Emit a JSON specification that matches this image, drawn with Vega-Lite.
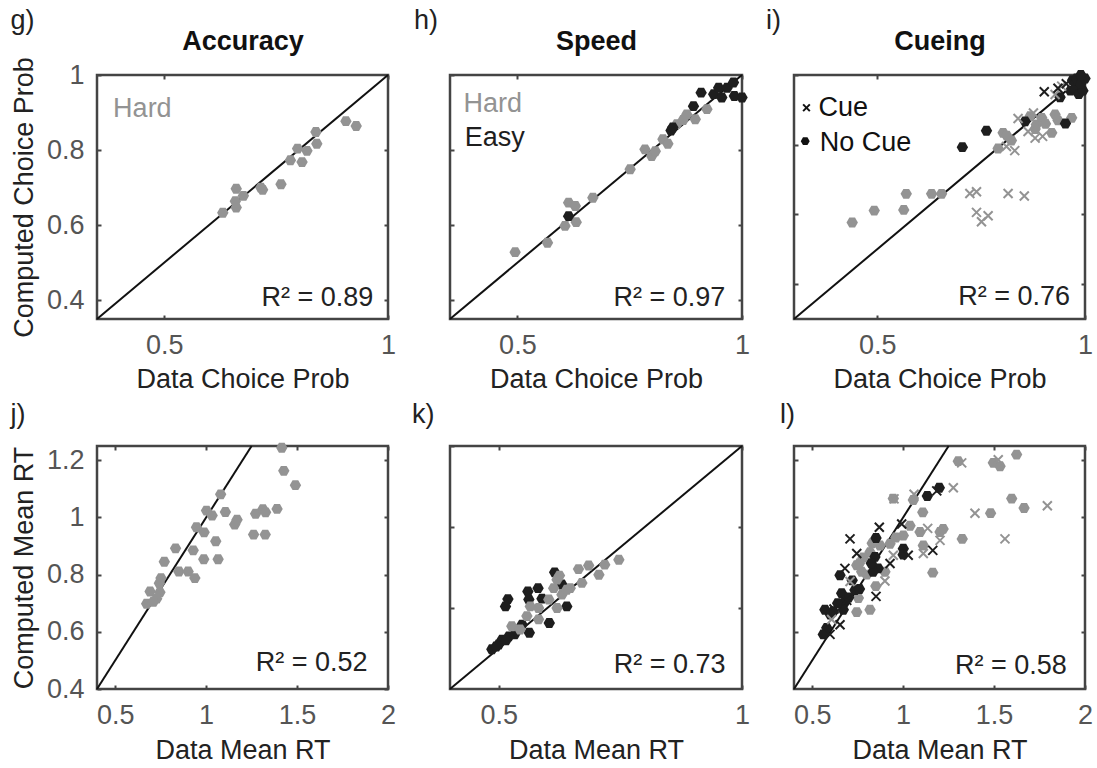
{
  "$schema": "https://vega.github.io/schema/vega-lite/v6.json",
  "background": "white",
  "padding": {"left": 9, "top": 5, "right": 0, "bottom": 0},
  "datasets": {
    "g": [
      {"observed": 0.631, "computed": 0.633, "difficulty": "Hard"},
      {"observed": 0.661, "computed": 0.647, "difficulty": "Hard"},
      {"observed": 0.659, "computed": 0.664, "difficulty": "Hard"},
      {"observed": 0.677, "computed": 0.678, "difficulty": "Hard"},
      {"observed": 0.661, "computed": 0.697, "difficulty": "Hard"},
      {"observed": 0.716, "computed": 0.700, "difficulty": "Hard"},
      {"observed": 0.720, "computed": 0.694, "difficulty": "Hard"},
      {"observed": 0.761, "computed": 0.709, "difficulty": "Hard"},
      {"observed": 0.782, "computed": 0.773, "difficulty": "Hard"},
      {"observed": 0.808, "computed": 0.768, "difficulty": "Hard"},
      {"observed": 0.798, "computed": 0.804, "difficulty": "Hard"},
      {"observed": 0.819, "computed": 0.798, "difficulty": "Hard"},
      {"observed": 0.841, "computed": 0.817, "difficulty": "Hard"},
      {"observed": 0.839, "computed": 0.848, "difficulty": "Hard"},
      {"observed": 0.906, "computed": 0.877, "difficulty": "Hard"},
      {"observed": 0.929, "computed": 0.864, "difficulty": "Hard"}
    ],
    "h": [
      {"observed": 0.495, "computed": 0.528, "difficulty": "Hard"},
      {"observed": 0.567, "computed": 0.553, "difficulty": "Hard"},
      {"observed": 0.606, "computed": 0.598, "difficulty": "Hard"},
      {"observed": 0.631, "computed": 0.608, "difficulty": "Hard"},
      {"observed": 0.614, "computed": 0.660, "difficulty": "Hard"},
      {"observed": 0.629, "computed": 0.651, "difficulty": "Hard"},
      {"observed": 0.668, "computed": 0.673, "difficulty": "Hard"},
      {"observed": 0.751, "computed": 0.749, "difficulty": "Hard"},
      {"observed": 0.784, "computed": 0.802, "difficulty": "Hard"},
      {"observed": 0.799, "computed": 0.784, "difficulty": "Hard"},
      {"observed": 0.807, "computed": 0.797, "difficulty": "Hard"},
      {"observed": 0.824, "computed": 0.829, "difficulty": "Hard"},
      {"observed": 0.835, "computed": 0.817, "difficulty": "Hard"},
      {"observed": 0.855, "computed": 0.869, "difficulty": "Hard"},
      {"observed": 0.869, "computed": 0.880, "difficulty": "Hard"},
      {"observed": 0.877, "computed": 0.895, "difficulty": "Hard"},
      {"observed": 0.896, "computed": 0.882, "difficulty": "Hard"},
      {"observed": 0.922, "computed": 0.909, "difficulty": "Hard"},
      {"observed": 0.614, "computed": 0.624, "difficulty": "Easy"},
      {"observed": 0.842, "computed": 0.852, "difficulty": "Easy"},
      {"observed": 0.846, "computed": 0.860, "difficulty": "Easy"},
      {"observed": 0.892, "computed": 0.917, "difficulty": "Easy"},
      {"observed": 0.909, "computed": 0.953, "difficulty": "Easy"},
      {"observed": 0.937, "computed": 0.949, "difficulty": "Easy"},
      {"observed": 0.948, "computed": 0.966, "difficulty": "Easy"},
      {"observed": 0.955, "computed": 0.940, "difficulty": "Easy"},
      {"observed": 0.967, "computed": 0.966, "difficulty": "Easy"},
      {"observed": 0.981, "computed": 0.980, "difficulty": "Easy"},
      {"observed": 0.983, "computed": 0.944, "difficulty": "Easy"},
      {"observed": 1.0, "computed": 0.940, "difficulty": "Easy"}
    ],
    "i": [
      {"observed": 0.440, "computed": 0.577, "difficulty": "Hard", "cue": "No Cue"},
      {"observed": 0.493, "computed": 0.611, "difficulty": "Hard", "cue": "No Cue"},
      {"observed": 0.564, "computed": 0.613, "difficulty": "Hard", "cue": "No Cue"},
      {"observed": 0.570, "computed": 0.659, "difficulty": "Hard", "cue": "No Cue"},
      {"observed": 0.631, "computed": 0.659, "difficulty": "Hard", "cue": "No Cue"},
      {"observed": 0.655, "computed": 0.659, "difficulty": "Hard", "cue": "No Cue"},
      {"observed": 0.791, "computed": 0.789, "difficulty": "Hard", "cue": "No Cue"},
      {"observed": 0.803, "computed": 0.834, "difficulty": "Hard", "cue": "No Cue"},
      {"observed": 0.823, "computed": 0.812, "difficulty": "Hard", "cue": "No Cue"},
      {"observed": 0.812, "computed": 0.826, "difficulty": "Hard", "cue": "No Cue"},
      {"observed": 0.883, "computed": 0.858, "difficulty": "Hard", "cue": "No Cue"},
      {"observed": 0.896, "computed": 0.877, "difficulty": "Hard", "cue": "No Cue"},
      {"observed": 0.928, "computed": 0.887, "difficulty": "Hard", "cue": "No Cue"},
      {"observed": 0.920, "computed": 0.834, "difficulty": "Hard", "cue": "No Cue"},
      {"observed": 0.968, "computed": 0.877, "difficulty": "Hard", "cue": "No Cue"},
      {"observed": 0.868, "computed": 0.882, "difficulty": "Hard", "cue": "No Cue"},
      {"observed": 0.880, "computed": 0.845, "difficulty": "Hard", "cue": "No Cue"},
      {"observed": 0.905, "computed": 0.860, "difficulty": "Hard", "cue": "No Cue"},
      {"observed": 0.935, "computed": 0.870, "difficulty": "Hard", "cue": "No Cue"},
      {"observed": 0.705, "computed": 0.793, "difficulty": "Easy", "cue": "No Cue"},
      {"observed": 0.763, "computed": 0.840, "difficulty": "Easy", "cue": "No Cue"},
      {"observed": 0.856, "computed": 0.867, "difficulty": "Easy", "cue": "No Cue"},
      {"observed": 0.953, "computed": 0.861, "difficulty": "Easy", "cue": "No Cue"},
      {"observed": 0.940, "computed": 0.936, "difficulty": "Easy", "cue": "No Cue"},
      {"observed": 0.965, "computed": 0.955, "difficulty": "Easy", "cue": "No Cue"},
      {"observed": 0.975, "computed": 0.960, "difficulty": "Easy", "cue": "No Cue"},
      {"observed": 0.985, "computed": 0.945, "difficulty": "Easy", "cue": "No Cue"},
      {"observed": 0.995, "computed": 0.955, "difficulty": "Easy", "cue": "No Cue"},
      {"observed": 0.970, "computed": 0.985, "difficulty": "Easy", "cue": "No Cue"},
      {"observed": 0.980, "computed": 0.990, "difficulty": "Easy", "cue": "No Cue"},
      {"observed": 0.990, "computed": 0.975, "difficulty": "Easy", "cue": "No Cue"},
      {"observed": 1.0, "computed": 0.990, "difficulty": "Easy", "cue": "No Cue"},
      {"observed": 0.990, "computed": 1.0, "difficulty": "Easy", "cue": "No Cue"},
      {"observed": 0.723, "computed": 0.660, "difficulty": "Hard", "cue": "Cue"},
      {"observed": 0.739, "computed": 0.665, "difficulty": "Hard", "cue": "Cue"},
      {"observed": 0.739, "computed": 0.606, "difficulty": "Hard", "cue": "Cue"},
      {"observed": 0.767, "computed": 0.596, "difficulty": "Hard", "cue": "Cue"},
      {"observed": 0.751, "computed": 0.579, "difficulty": "Hard", "cue": "Cue"},
      {"observed": 0.815, "computed": 0.660, "difficulty": "Hard", "cue": "Cue"},
      {"observed": 0.854, "computed": 0.653, "difficulty": "Hard", "cue": "Cue"},
      {"observed": 0.831, "computed": 0.783, "difficulty": "Hard", "cue": "Cue"},
      {"observed": 0.811, "computed": 0.795, "difficulty": "Hard", "cue": "Cue"},
      {"observed": 0.839, "computed": 0.875, "difficulty": "Hard", "cue": "Cue"},
      {"observed": 0.876, "computed": 0.891, "difficulty": "Hard", "cue": "Cue"},
      {"observed": 0.863, "computed": 0.838, "difficulty": "Hard", "cue": "Cue"},
      {"observed": 0.880, "computed": 0.819, "difficulty": "Hard", "cue": "Cue"},
      {"observed": 0.898, "computed": 0.824, "difficulty": "Hard", "cue": "Cue"},
      {"observed": 0.928, "computed": 0.944, "difficulty": "Hard", "cue": "Cue"},
      {"observed": 0.944, "computed": 0.968, "difficulty": "Hard", "cue": "Cue"},
      {"observed": 0.902, "computed": 0.952, "difficulty": "Easy", "cue": "Cue"},
      {"observed": 0.935, "computed": 0.962, "difficulty": "Easy", "cue": "Cue"},
      {"observed": 0.955, "computed": 0.975, "difficulty": "Easy", "cue": "Cue"}
    ],
    "j": [
      {"observed": 1.416, "computed": 1.244, "difficulty": "Hard"},
      {"observed": 1.427, "computed": 1.163, "difficulty": "Hard"},
      {"observed": 1.491, "computed": 1.113, "difficulty": "Hard"},
      {"observed": 1.080, "computed": 1.081, "difficulty": "Hard"},
      {"observed": 1.002, "computed": 1.024, "difficulty": "Hard"},
      {"observed": 1.033, "computed": 1.007, "difficulty": "Hard"},
      {"observed": 1.106, "computed": 1.019, "difficulty": "Hard"},
      {"observed": 1.170, "computed": 0.992, "difficulty": "Hard"},
      {"observed": 1.157, "computed": 0.975, "difficulty": "Hard"},
      {"observed": 0.947, "computed": 0.966, "difficulty": "Hard"},
      {"observed": 0.989, "computed": 0.948, "difficulty": "Hard"},
      {"observed": 1.053, "computed": 0.917, "difficulty": "Hard"},
      {"observed": 0.832, "computed": 0.892, "difficulty": "Hard"},
      {"observed": 0.929, "computed": 0.885, "difficulty": "Hard"},
      {"observed": 0.770, "computed": 0.845, "difficulty": "Hard"},
      {"observed": 0.987, "computed": 0.854, "difficulty": "Hard"},
      {"observed": 1.066, "computed": 0.854, "difficulty": "Hard"},
      {"observed": 0.850, "computed": 0.811, "difficulty": "Hard"},
      {"observed": 0.901, "computed": 0.811, "difficulty": "Hard"},
      {"observed": 0.938, "computed": 0.788, "difficulty": "Hard"},
      {"observed": 0.752, "computed": 0.788, "difficulty": "Hard"},
      {"observed": 0.743, "computed": 0.770, "difficulty": "Hard"},
      {"observed": 0.692, "computed": 0.741, "difficulty": "Hard"},
      {"observed": 0.746, "computed": 0.738, "difficulty": "Hard"},
      {"observed": 0.728, "computed": 0.716, "difficulty": "Hard"},
      {"observed": 0.673, "computed": 0.698, "difficulty": "Hard"},
      {"observed": 0.710, "computed": 0.705, "difficulty": "Hard"},
      {"observed": 1.261, "computed": 0.940, "difficulty": "Hard"},
      {"observed": 1.325, "computed": 0.940, "difficulty": "Hard"},
      {"observed": 1.272, "computed": 1.013, "difficulty": "Hard"},
      {"observed": 1.312, "computed": 1.029, "difficulty": "Hard"},
      {"observed": 1.327, "computed": 1.018, "difficulty": "Hard"},
      {"observed": 1.390, "computed": 1.030, "difficulty": "Hard"}
    ],
    "k": [
      {"observed": 0.615, "computed": 0.688, "difficulty": "Easy"},
      {"observed": 0.581, "computed": 0.649, "difficulty": "Easy"},
      {"observed": 0.560, "computed": 0.641, "difficulty": "Easy"},
      {"observed": 0.562, "computed": 0.621, "difficulty": "Easy"},
      {"observed": 0.519, "computed": 0.622, "difficulty": "Easy"},
      {"observed": 0.514, "computed": 0.604, "difficulty": "Easy"},
      {"observed": 0.640, "computed": 0.604, "difficulty": "Easy"},
      {"observed": 0.604, "computed": 0.563, "difficulty": "Easy"},
      {"observed": 0.589, "computed": 0.623, "difficulty": "Easy"},
      {"observed": 0.630, "computed": 0.658, "difficulty": "Easy"},
      {"observed": 0.548, "computed": 0.559, "difficulty": "Easy"},
      {"observed": 0.563, "computed": 0.539, "difficulty": "Easy"},
      {"observed": 0.533, "computed": 0.535, "difficulty": "Easy"},
      {"observed": 0.521, "computed": 0.530, "difficulty": "Easy"},
      {"observed": 0.507, "computed": 0.522, "difficulty": "Easy"},
      {"observed": 0.500, "computed": 0.510, "difficulty": "Easy"},
      {"observed": 0.486, "computed": 0.498, "difficulty": "Easy"},
      {"observed": 0.495, "computed": 0.505, "difficulty": "Easy"},
      {"observed": 0.515, "computed": 0.520, "difficulty": "Easy"},
      {"observed": 0.747, "computed": 0.719, "difficulty": "Hard"},
      {"observed": 0.718, "computed": 0.707, "difficulty": "Hard"},
      {"observed": 0.706, "computed": 0.682, "difficulty": "Hard"},
      {"observed": 0.685, "computed": 0.705, "difficulty": "Hard"},
      {"observed": 0.664, "computed": 0.696, "difficulty": "Hard"},
      {"observed": 0.671, "computed": 0.662, "difficulty": "Hard"},
      {"observed": 0.647, "computed": 0.649, "difficulty": "Hard"},
      {"observed": 0.620, "computed": 0.670, "difficulty": "Hard"},
      {"observed": 0.613, "computed": 0.649, "difficulty": "Hard"},
      {"observed": 0.630, "computed": 0.633, "difficulty": "Hard"},
      {"observed": 0.620, "computed": 0.600, "difficulty": "Hard"},
      {"observed": 0.603, "computed": 0.621, "difficulty": "Hard"},
      {"observed": 0.582, "computed": 0.600, "difficulty": "Hard"},
      {"observed": 0.565, "computed": 0.604, "difficulty": "Hard"},
      {"observed": 0.582, "computed": 0.572, "difficulty": "Hard"},
      {"observed": 0.558, "computed": 0.580, "difficulty": "Hard"},
      {"observed": 0.527, "computed": 0.555, "difficulty": "Hard"},
      {"observed": 0.544, "computed": 0.547, "difficulty": "Hard"},
      {"observed": 0.625, "computed": 0.680, "difficulty": "Hard"},
      {"observed": 0.640, "computed": 0.645, "difficulty": "Hard"}
    ],
    "l": [
      {"observed": 1.303, "computed": 1.197, "difficulty": "Hard", "cue": "No Cue"},
      {"observed": 1.496, "computed": 1.191, "difficulty": "Hard", "cue": "No Cue"},
      {"observed": 1.533, "computed": 1.179, "difficulty": "Hard", "cue": "No Cue"},
      {"observed": 1.624, "computed": 1.220, "difficulty": "Hard", "cue": "No Cue"},
      {"observed": 0.946, "computed": 1.066, "difficulty": "Hard", "cue": "No Cue"},
      {"observed": 1.056, "computed": 1.061, "difficulty": "Hard", "cue": "No Cue"},
      {"observed": 1.108, "computed": 1.018, "difficulty": "Hard", "cue": "No Cue"},
      {"observed": 1.597, "computed": 1.066, "difficulty": "Hard", "cue": "No Cue"},
      {"observed": 1.665, "computed": 1.033, "difficulty": "Hard", "cue": "No Cue"},
      {"observed": 1.481, "computed": 1.015, "difficulty": "Hard", "cue": "No Cue"},
      {"observed": 1.325, "computed": 0.925, "difficulty": "Hard", "cue": "No Cue"},
      {"observed": 1.163, "computed": 0.807, "difficulty": "Hard", "cue": "No Cue"},
      {"observed": 1.038, "computed": 0.971, "difficulty": "Hard", "cue": "No Cue"},
      {"observed": 1.093, "computed": 0.949, "difficulty": "Hard", "cue": "No Cue"},
      {"observed": 1.203, "computed": 0.949, "difficulty": "Hard", "cue": "No Cue"},
      {"observed": 1.220, "computed": 0.960, "difficulty": "Hard", "cue": "No Cue"},
      {"observed": 1.111, "computed": 0.902, "difficulty": "Hard", "cue": "No Cue"},
      {"observed": 1.001, "computed": 0.937, "difficulty": "Hard", "cue": "No Cue"},
      {"observed": 0.928, "computed": 0.908, "difficulty": "Hard", "cue": "No Cue"},
      {"observed": 0.873, "computed": 0.902, "difficulty": "Hard", "cue": "No Cue"},
      {"observed": 0.818, "computed": 0.879, "difficulty": "Hard", "cue": "No Cue"},
      {"observed": 0.745, "computed": 0.833, "difficulty": "Hard", "cue": "No Cue"},
      {"observed": 0.772, "computed": 0.810, "difficulty": "Hard", "cue": "No Cue"},
      {"observed": 0.800, "computed": 0.800, "difficulty": "Hard", "cue": "No Cue"},
      {"observed": 0.754, "computed": 0.718, "difficulty": "Hard", "cue": "No Cue"},
      {"observed": 0.818, "computed": 0.677, "difficulty": "Hard", "cue": "No Cue"},
      {"observed": 0.745, "computed": 0.669, "difficulty": "Hard", "cue": "No Cue"},
      {"observed": 0.850, "computed": 0.760, "difficulty": "Hard", "cue": "No Cue"},
      {"observed": 0.900, "computed": 0.810, "difficulty": "Hard", "cue": "No Cue"},
      {"observed": 0.780, "computed": 0.860, "difficulty": "Hard", "cue": "No Cue"},
      {"observed": 0.760, "computed": 0.840, "difficulty": "Hard", "cue": "No Cue"},
      {"observed": 0.960, "computed": 0.930, "difficulty": "Hard", "cue": "No Cue"},
      {"observed": 0.830, "computed": 0.910, "difficulty": "Hard", "cue": "No Cue"},
      {"observed": 1.199, "computed": 1.104, "difficulty": "Easy", "cue": "No Cue"},
      {"observed": 1.133, "computed": 1.075, "difficulty": "Easy", "cue": "No Cue"},
      {"observed": 1.001, "computed": 0.891, "difficulty": "Easy", "cue": "No Cue"},
      {"observed": 1.000, "computed": 0.870, "difficulty": "Easy", "cue": "No Cue"},
      {"observed": 0.851, "computed": 0.928, "difficulty": "Easy", "cue": "No Cue"},
      {"observed": 0.845, "computed": 0.862, "difficulty": "Easy", "cue": "No Cue"},
      {"observed": 0.863, "computed": 0.822, "difficulty": "Easy", "cue": "No Cue"},
      {"observed": 0.835, "computed": 0.810, "difficulty": "Easy", "cue": "No Cue"},
      {"observed": 0.825, "computed": 0.840, "difficulty": "Easy", "cue": "No Cue"},
      {"observed": 0.653, "computed": 0.798, "difficulty": "Easy", "cue": "No Cue"},
      {"observed": 0.662, "computed": 0.735, "difficulty": "Easy", "cue": "No Cue"},
      {"observed": 0.735, "computed": 0.746, "difficulty": "Easy", "cue": "No Cue"},
      {"observed": 0.760, "computed": 0.750, "difficulty": "Easy", "cue": "No Cue"},
      {"observed": 0.680, "computed": 0.706, "difficulty": "Easy", "cue": "No Cue"},
      {"observed": 0.570, "computed": 0.677, "difficulty": "Easy", "cue": "No Cue"},
      {"observed": 0.616, "computed": 0.672, "difficulty": "Easy", "cue": "No Cue"},
      {"observed": 0.671, "computed": 0.677, "difficulty": "Easy", "cue": "No Cue"},
      {"observed": 0.580, "computed": 0.614, "difficulty": "Easy", "cue": "No Cue"},
      {"observed": 0.561, "computed": 0.591, "difficulty": "Easy", "cue": "No Cue"},
      {"observed": 0.700, "computed": 0.720, "difficulty": "Easy", "cue": "No Cue"},
      {"observed": 0.720, "computed": 0.780, "difficulty": "Easy", "cue": "No Cue"},
      {"observed": 0.640, "computed": 0.700, "difficulty": "Easy", "cue": "No Cue"},
      {"observed": 0.600, "computed": 0.660, "difficulty": "Easy", "cue": "No Cue"},
      {"observed": 1.322, "computed": 1.191, "difficulty": "Hard", "cue": "Cue"},
      {"observed": 1.523, "computed": 1.202, "difficulty": "Hard", "cue": "Cue"},
      {"observed": 1.276, "computed": 1.104, "difficulty": "Hard", "cue": "Cue"},
      {"observed": 1.060, "computed": 1.081, "difficulty": "Hard", "cue": "Cue"},
      {"observed": 1.395, "computed": 1.015, "difficulty": "Hard", "cue": "Cue"},
      {"observed": 1.793, "computed": 1.041, "difficulty": "Hard", "cue": "Cue"},
      {"observed": 1.560, "computed": 0.925, "difficulty": "Hard", "cue": "Cue"},
      {"observed": 1.203, "computed": 0.920, "difficulty": "Hard", "cue": "Cue"},
      {"observed": 1.111, "computed": 0.874, "difficulty": "Hard", "cue": "Cue"},
      {"observed": 1.135, "computed": 0.962, "difficulty": "Hard", "cue": "Cue"},
      {"observed": 0.900, "computed": 0.778, "difficulty": "Hard", "cue": "Cue"},
      {"observed": 0.708, "computed": 0.776, "difficulty": "Hard", "cue": "Cue"},
      {"observed": 0.607, "computed": 0.643, "difficulty": "Hard", "cue": "Cue"},
      {"observed": 0.946, "computed": 0.868, "difficulty": "Hard", "cue": "Cue"},
      {"observed": 0.950, "computed": 1.065, "difficulty": "Hard", "cue": "Cue"},
      {"observed": 0.708, "computed": 0.925, "difficulty": "Easy", "cue": "Cue"},
      {"observed": 0.869, "computed": 0.966, "difficulty": "Easy", "cue": "Cue"},
      {"observed": 0.745, "computed": 0.874, "difficulty": "Easy", "cue": "Cue"},
      {"observed": 0.680, "computed": 0.822, "difficulty": "Easy", "cue": "Cue"},
      {"observed": 0.928, "computed": 0.839, "difficulty": "Easy", "cue": "Cue"},
      {"observed": 1.028, "computed": 0.868, "difficulty": "Easy", "cue": "Cue"},
      {"observed": 1.163, "computed": 0.885, "difficulty": "Easy", "cue": "Cue"},
      {"observed": 0.851, "computed": 0.724, "difficulty": "Easy", "cue": "Cue"},
      {"observed": 0.653, "computed": 0.625, "difficulty": "Easy", "cue": "Cue"},
      {"observed": 0.598, "computed": 0.591, "difficulty": "Easy", "cue": "Cue"},
      {"observed": 0.992, "computed": 0.977, "difficulty": "Easy", "cue": "Cue"},
      {"observed": 1.185, "computed": 1.093, "difficulty": "Easy", "cue": "Cue"},
      {"observed": 0.690, "computed": 0.710, "difficulty": "Easy", "cue": "Cue"},
      {"observed": 0.620, "computed": 0.680, "difficulty": "Easy", "cue": "Cue"}
    ]
  },
  "columns": 3,
  "spacing": {"row": 5, "column": 13},
  "resolve": {"scale": {"x": "independent", "y": "independent"}},
  "concat": [
    {
      "width": 291, "height": 244,
      "title": {"text": "g)", "offset": -8},
      "data": {"name": "g"},
      "layer": [
        {"data": {"values": [{"observed": 0.35, "computed": 0.35}, {"observed": 1, "computed": 1}]},
         "mark": {"type": "line", "color": "#111", "strokeWidth": 2},
         "encoding": {
           "x": {"field": "observed", "type": "quantitative", "scale": {"domain": [0.35, 1], "nice": false, "zero": false}, "axis": {"orient": "bottom", "values": [0.5, 1], "format": "~g", "title": "Data Choice Prob"}},
           "y": {"field": "computed", "type": "quantitative", "scale": {"domain": [0.35, 1], "nice": false, "zero": false}, "axis": {"orient": "left", "values": [0.4, 0.6, 0.8, 1], "format": "~g", "title": "Computed Choice Prob"}}}},
        {"mark": {"type": "point", "shape": "M-1,0L-0.5,-0.866L0.5,-0.866L1,0L0.5,0.866L-0.5,0.866Z", "filled": true, "size": 130, "opacity": 1},
         "encoding": {
           "x": {"field": "observed", "type": "quantitative", "scale": {"domain": [0.35, 1], "nice": false, "zero": false}, "axis": {"orient": "top", "values": [0.5, 1], "labels": false, "title": "Accuracy", "titleFontWeight": "bold", "titleColor": "#111", "titlePadding": 19}},
           "y": {"field": "computed", "type": "quantitative", "scale": {"domain": [0.35, 1], "nice": false, "zero": false}, "axis": {"orient": "right", "values": [0.4, 0.6, 0.8, 1], "labels": false, "title": null}},
           "color": {"field": "difficulty", "type": "nominal", "scale": {"domain": ["Hard", "Easy"], "range": ["#939393", "#1e1e1e"]}, "legend": null}}},
        {"data": {"values": [{}]},
         "mark": {"type": "text", "text": "R² = 0.89", "align": "right", "baseline": "alphabetic", "fontSize": 27, "color": "#222"},
         "encoding": {"x": {"datum": 0.967, "type": "quantitative", "axis": null}, "y": {"datum": 0.385, "type": "quantitative", "axis": null}}},
        {"data": {"values": [{}]},
         "mark": {"type": "text", "text": "Hard", "align": "left", "baseline": "alphabetic", "fontSize": 27, "color": "#939393"},
         "encoding": {"x": {"datum": 0.386, "type": "quantitative", "axis": null}, "y": {"datum": 0.888, "type": "quantitative", "axis": null}}}
      ],
      "resolve": {"axis": {"x": "independent", "y": "independent"}}
    },
    {
      "width": 292, "height": 244,
      "title": {"text": "h)", "offset": -8, "dx": -32},
      "data": {"name": "h"},
      "layer": [
        {"data": {"values": [{"observed": 0.35, "computed": 0.35}, {"observed": 1, "computed": 1}]},
         "mark": {"type": "line", "color": "#111", "strokeWidth": 2},
         "encoding": {
           "x": {"field": "observed", "type": "quantitative", "scale": {"domain": [0.35, 1], "nice": false, "zero": false}, "axis": {"orient": "bottom", "values": [0.5, 1], "format": "~g", "title": "Data Choice Prob"}},
           "y": {"field": "computed", "type": "quantitative", "scale": {"domain": [0.35, 1], "nice": false, "zero": false}, "axis": {"orient": "left", "values": [0.4, 0.6, 0.8, 1], "labels": false, "title": null}}}},
        {"mark": {"type": "point", "shape": "M-1,0L-0.5,-0.866L0.5,-0.866L1,0L0.5,0.866L-0.5,0.866Z", "filled": true, "size": 130, "opacity": 1},
         "encoding": {
           "x": {"field": "observed", "type": "quantitative", "scale": {"domain": [0.35, 1], "nice": false, "zero": false}, "axis": {"orient": "top", "values": [0.5, 1], "labels": false, "title": "Speed", "titleFontWeight": "bold", "titleColor": "#111", "titlePadding": 19}},
           "y": {"field": "computed", "type": "quantitative", "scale": {"domain": [0.35, 1], "nice": false, "zero": false}, "axis": {"orient": "right", "values": [0.4, 0.6, 0.8, 1], "labels": false, "title": null}},
           "color": {"field": "difficulty", "type": "nominal", "scale": {"domain": ["Hard", "Easy"], "range": ["#939393", "#1e1e1e"]}, "legend": null}}},
        {"data": {"values": [{}]},
         "mark": {"type": "text", "text": "R² = 0.97", "align": "right", "baseline": "alphabetic", "fontSize": 27, "color": "#222"},
         "encoding": {"x": {"datum": 0.963, "type": "quantitative", "axis": null}, "y": {"datum": 0.385, "type": "quantitative", "axis": null}}},
        {"data": {"values": [{}]},
         "mark": {"type": "text", "text": "Hard", "align": "left", "baseline": "alphabetic", "fontSize": 27, "color": "#939393"},
         "encoding": {"x": {"datum": 0.380, "type": "quantitative", "axis": null}, "y": {"datum": 0.902, "type": "quantitative", "axis": null}}},
        {"data": {"values": [{}]},
         "mark": {"type": "text", "text": "Easy", "align": "left", "baseline": "alphabetic", "fontSize": 27, "color": "#1e1e1e"},
         "encoding": {"x": {"datum": 0.383, "type": "quantitative", "axis": null}, "y": {"datum": 0.811, "type": "quantitative", "axis": null}}}
      ],
      "resolve": {"axis": {"x": "independent", "y": "independent"}}
    },
    {
      "width": 291, "height": 244,
      "title": {"text": "i)", "offset": -8, "dx": -24},
      "data": {"name": "i"},
      "layer": [
        {"data": {"values": [{"observed": 0.3, "computed": 0.3}, {"observed": 1, "computed": 1}]},
         "mark": {"type": "line", "color": "#111", "strokeWidth": 2},
         "encoding": {
           "x": {"field": "observed", "type": "quantitative", "scale": {"domain": [0.3, 1], "nice": false, "zero": false}, "axis": {"orient": "bottom", "values": [0.5, 1], "format": "~g", "title": "Data Choice Prob"}},
           "y": {"field": "computed", "type": "quantitative", "scale": {"domain": [0.3, 1], "nice": false, "zero": false}, "axis": {"orient": "left", "values": [0.4, 0.6, 0.8, 1], "labels": false, "title": null}}}},
        {"transform": [{"filter": "datum.cue === 'No Cue'"}],
         "mark": {"type": "point", "shape": "M-1,0L-0.5,-0.866L0.5,-0.866L1,0L0.5,0.866L-0.5,0.866Z", "filled": true, "size": 130, "opacity": 1},
         "encoding": {
           "x": {"field": "observed", "type": "quantitative", "scale": {"domain": [0.3, 1], "nice": false, "zero": false}, "axis": {"orient": "top", "values": [0.5, 1], "labels": false, "title": "Cueing", "titleFontWeight": "bold", "titleColor": "#111", "titlePadding": 19}},
           "y": {"field": "computed", "type": "quantitative", "scale": {"domain": [0.3, 1], "nice": false, "zero": false}, "axis": {"orient": "right", "values": [0.4, 0.6, 0.8, 1], "labels": false, "title": null}},
           "color": {"field": "difficulty", "type": "nominal", "scale": {"domain": ["Hard", "Easy"], "range": ["#939393", "#1e1e1e"]}, "legend": null}}},
        {"transform": [{"filter": "datum.cue === 'Cue'"}],
         "mark": {"type": "point", "shape": "M-1,-1L1,1M-1,1L1,-1", "filled": false, "size": 81, "strokeWidth": 2, "opacity": 1},
         "encoding": {
           "x": {"field": "observed", "type": "quantitative", "axis": null},
           "y": {"field": "computed", "type": "quantitative", "axis": null},
           "color": {"field": "difficulty", "type": "nominal", "scale": {"domain": ["Hard", "Easy"], "range": ["#939393", "#1e1e1e"]}, "legend": null}}},
        {"data": {"values": [{}]},
         "mark": {"type": "text", "text": "R² = 0.76", "align": "right", "baseline": "alphabetic", "fontSize": 27, "color": "#222"},
         "encoding": {"x": {"datum": 0.964, "type": "quantitative", "axis": null}, "y": {"datum": 0.339, "type": "quantitative", "axis": null}}},
        {"data": {"values": [{}]},
         "mark": {"type": "point", "shape": "M-1,-1L1,1M-1,1L1,-1", "filled": false, "size": 45, "strokeWidth": 2, "color": "#111", "opacity": 1},
         "encoding": {"x": {"datum": 0.330, "type": "quantitative", "axis": null}, "y": {"datum": 0.906, "type": "quantitative", "axis": null}}},
        {"data": {"values": [{}]},
         "mark": {"type": "point", "shape": "M-1,0L-0.5,-0.866L0.5,-0.866L1,0L0.5,0.866L-0.5,0.866Z", "filled": true, "size": 80, "color": "#111", "opacity": 1},
         "encoding": {"x": {"datum": 0.327, "type": "quantitative", "axis": null}, "y": {"datum": 0.810, "type": "quantitative", "axis": null}}},
        {"data": {"values": [{}]},
         "mark": {"type": "text", "text": "Cue", "align": "left", "baseline": "alphabetic", "fontSize": 27, "color": "#111"},
         "encoding": {"x": {"datum": 0.359, "type": "quantitative", "axis": null}, "y": {"datum": 0.882, "type": "quantitative", "axis": null}}},
        {"data": {"values": [{}]},
         "mark": {"type": "text", "text": "No Cue", "align": "left", "baseline": "alphabetic", "fontSize": 27, "color": "#111"},
         "encoding": {"x": {"datum": 0.362, "type": "quantitative", "axis": null}, "y": {"datum": 0.783, "type": "quantitative", "axis": null}}}
      ],
      "resolve": {"axis": {"x": "independent", "y": "independent"}}
    },
    {
      "width": 291, "height": 243,
      "title": {"text": "j)", "offset": 13},
      "data": {"name": "j"},
      "layer": [
        {"data": {"values": [{"observed": 0.4, "computed": 0.4}, {"observed": 1.25, "computed": 1.25}]},
         "mark": {"type": "line", "color": "#111", "strokeWidth": 2},
         "encoding": {
           "x": {"field": "observed", "type": "quantitative", "scale": {"domain": [0.4, 2], "nice": false, "zero": false}, "axis": {"orient": "bottom", "values": [0.5, 1, 1.5, 2], "format": "~g", "title": "Data Mean RT", "titlePadding": 9}},
           "y": {"field": "computed", "type": "quantitative", "scale": {"domain": [0.4, 1.25], "nice": false, "zero": false}, "axis": {"orient": "left", "values": [0.4, 0.6, 0.8, 1, 1.2], "format": "~g", "title": "Computed Mean RT"}}}},
        {"mark": {"type": "point", "shape": "M-1,0L-0.5,-0.866L0.5,-0.866L1,0L0.5,0.866L-0.5,0.866Z", "filled": true, "size": 130, "opacity": 1},
         "encoding": {
           "x": {"field": "observed", "type": "quantitative", "scale": {"domain": [0.4, 2], "nice": false, "zero": false}, "axis": {"orient": "top", "values": [0.5, 1, 1.5, 2], "labels": false, "title": null}},
           "y": {"field": "computed", "type": "quantitative", "scale": {"domain": [0.4, 1.25], "nice": false, "zero": false}, "axis": {"orient": "right", "values": [0.4, 0.6, 0.8, 1, 1.2], "labels": false, "title": null}},
           "color": {"field": "difficulty", "type": "nominal", "scale": {"domain": ["Hard", "Easy"], "range": ["#939393", "#1e1e1e"]}, "legend": null}}},
        {"data": {"values": [{}]},
         "mark": {"type": "text", "text": "R² = 0.52", "align": "right", "baseline": "alphabetic", "fontSize": 27, "color": "#222"},
         "encoding": {"x": {"datum": 1.887, "type": "quantitative", "axis": null}, "y": {"datum": 0.462, "type": "quantitative", "axis": null}}}
      ],
      "resolve": {"axis": {"x": "independent", "y": "independent"}}
    },
    {
      "width": 292, "height": 243,
      "title": {"text": "k)", "offset": 13, "dx": -34},
      "data": {"name": "k"},
      "layer": [
        {"data": {"values": [{"observed": 0.4, "computed": 0.4}, {"observed": 1, "computed": 1}]},
         "mark": {"type": "line", "color": "#111", "strokeWidth": 2},
         "encoding": {
           "x": {"field": "observed", "type": "quantitative", "scale": {"domain": [0.4, 1], "nice": false, "zero": false}, "axis": {"orient": "bottom", "values": [0.5, 1], "format": "~g", "title": "Data Mean RT", "titlePadding": 9}},
           "y": {"field": "computed", "type": "quantitative", "scale": {"domain": [0.4, 1], "nice": false, "zero": false}, "axis": {"orient": "left", "values": [0.6, 0.8, 1], "labels": false, "title": null}}}},
        {"mark": {"type": "point", "shape": "M-1,0L-0.5,-0.866L0.5,-0.866L1,0L0.5,0.866L-0.5,0.866Z", "filled": true, "size": 130, "opacity": 1},
         "encoding": {
           "x": {"field": "observed", "type": "quantitative", "scale": {"domain": [0.4, 1], "nice": false, "zero": false}, "axis": {"orient": "top", "values": [0.5, 1], "labels": false, "title": null}},
           "y": {"field": "computed", "type": "quantitative", "scale": {"domain": [0.4, 1], "nice": false, "zero": false}, "axis": {"orient": "right", "values": [0.6, 0.8, 1], "labels": false, "title": null}},
           "color": {"field": "difficulty", "type": "nominal", "scale": {"domain": ["Hard", "Easy"], "range": ["#939393", "#1e1e1e"]}, "legend": null}}},
        {"data": {"values": [{}]},
         "mark": {"type": "text", "text": "R² = 0.73", "align": "right", "baseline": "alphabetic", "fontSize": 27, "color": "#222"},
         "encoding": {"x": {"datum": 0.966, "type": "quantitative", "axis": null}, "y": {"datum": 0.440, "type": "quantitative", "axis": null}}}
      ],
      "resolve": {"axis": {"x": "independent", "y": "independent"}}
    },
    {
      "width": 291, "height": 243,
      "title": {"text": "l)", "offset": 13, "dx": -10},
      "data": {"name": "l"},
      "layer": [
        {"data": {"values": [{"observed": 0.4, "computed": 0.4}, {"observed": 1.25, "computed": 1.25}]},
         "mark": {"type": "line", "color": "#111", "strokeWidth": 2},
         "encoding": {
           "x": {"field": "observed", "type": "quantitative", "scale": {"domain": [0.4, 2], "nice": false, "zero": false}, "axis": {"orient": "bottom", "values": [0.5, 1, 1.5, 2], "format": "~g", "title": "Data Mean RT", "titlePadding": 9}},
           "y": {"field": "computed", "type": "quantitative", "scale": {"domain": [0.4, 1.25], "nice": false, "zero": false}, "axis": {"orient": "left", "values": [0.6, 0.8, 1, 1.2], "labels": false, "title": null}}}},
        {"transform": [{"filter": "datum.cue === 'No Cue'"}],
         "mark": {"type": "point", "shape": "M-1,0L-0.5,-0.866L0.5,-0.866L1,0L0.5,0.866L-0.5,0.866Z", "filled": true, "size": 130, "opacity": 1},
         "encoding": {
           "x": {"field": "observed", "type": "quantitative", "scale": {"domain": [0.4, 2], "nice": false, "zero": false}, "axis": {"orient": "top", "values": [0.5, 1, 1.5, 2], "labels": false, "title": null}},
           "y": {"field": "computed", "type": "quantitative", "scale": {"domain": [0.4, 1.25], "nice": false, "zero": false}, "axis": {"orient": "right", "values": [0.6, 0.8, 1, 1.2], "labels": false, "title": null}},
           "color": {"field": "difficulty", "type": "nominal", "scale": {"domain": ["Hard", "Easy"], "range": ["#939393", "#1e1e1e"]}, "legend": null}}},
        {"transform": [{"filter": "datum.cue === 'Cue'"}],
         "mark": {"type": "point", "shape": "M-1,-1L1,1M-1,1L1,-1", "filled": false, "size": 81, "strokeWidth": 2, "opacity": 1},
         "encoding": {
           "x": {"field": "observed", "type": "quantitative", "axis": null},
           "y": {"field": "computed", "type": "quantitative", "axis": null},
           "color": {"field": "difficulty", "type": "nominal", "scale": {"domain": ["Hard", "Easy"], "range": ["#939393", "#1e1e1e"]}, "legend": null}}},
        {"data": {"values": [{}]},
         "mark": {"type": "text", "text": "R² = 0.58", "align": "right", "baseline": "alphabetic", "fontSize": 27, "color": "#222"},
         "encoding": {"x": {"datum": 1.90, "type": "quantitative", "axis": null}, "y": {"datum": 0.452, "type": "quantitative", "axis": null}}}
      ],
      "resolve": {"axis": {"x": "independent", "y": "independent"}}
    }
  ],
  "config": {
    "font": "Liberation Sans",
    "view": {"stroke": "#444", "strokeWidth": 2.5},
    "axis": {"domain": false, "grid": false, "ticks": true, "tickSize": -4, "tickWidth": 2, "tickColor": "#444", "labelFontSize": 27, "labelColor": "#555", "labelPadding": 17, "labelFlush": false, "labelOverlap": false, "labelBound": false, "titleFontSize": 27, "titleFontWeight": "normal", "titleColor": "#222", "titlePadding": 8},
    "title": {"fontSize": 27, "fontWeight": "normal", "color": "#222", "anchor": "start", "frame": "bounds"}
  }
}
